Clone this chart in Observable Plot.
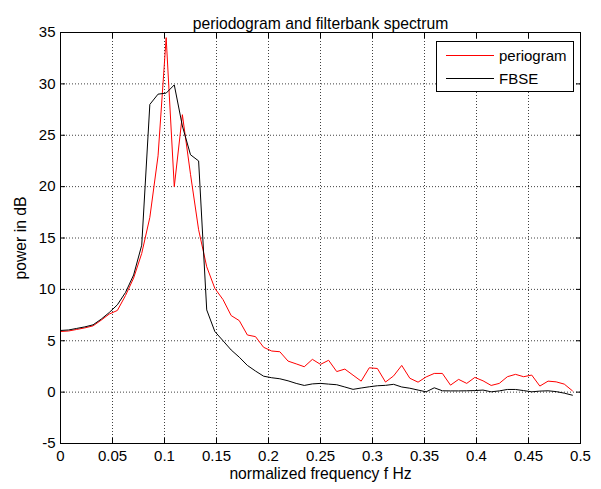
<!DOCTYPE html>
<html>
<head>
<meta charset="utf-8">
<script src="https://cdn.jsdelivr.net/npm/d3@7"></script>
<script src="https://cdn.jsdelivr.net/npm/@observablehq/plot@0.6"></script>
<style>
  body { margin: 0; background: #fff; }
  #wrap { position: relative; width: 601px; height: 489px; font-family: "Liberation Sans", Arial, sans-serif; }
  #legend { position: absolute; left: 436px; top: 41px; width: 136px; height: 49px; border: 1px solid #000; background: #fff; font-size: 15px; }
  .row { position: absolute; left: 0; height: 20px; width: 136px; }
  .sw { position: absolute; left: 9px; top: 9px; width: 48px; height: 0; border-top: 1px solid; }
  .lab { position: absolute; left: 62px; top: 1px; line-height: 17px; }
</style>
</head>
<body>
<div id="wrap"></div>
<script>
// Normalized frequency of each spectrum sample
const freq = [0, 0.0078, 0.0156, 0.0234, 0.0313, 0.0391, 0.0469, 0.0547, 0.0625, 0.0703,
  0.0781, 0.0859, 0.0938, 0.1016, 0.1094, 0.1172, 0.125, 0.1328, 0.1406, 0.1484,
  0.1563, 0.1641, 0.1719, 0.1797, 0.1875, 0.1953, 0.2031, 0.2109, 0.2188, 0.2266,
  0.2344, 0.2422, 0.25, 0.2578, 0.2656, 0.2734, 0.2813, 0.2891, 0.2969, 0.3047,
  0.3125, 0.3203, 0.3281, 0.3359, 0.3438, 0.3516, 0.3594, 0.3672, 0.375, 0.3828,
  0.3906, 0.3984, 0.4063, 0.4141, 0.4219, 0.4297, 0.4375, 0.4453, 0.4531, 0.4609,
  0.4688, 0.4766, 0.4844, 0.4922];

// periogram (dB)
const periogram = [5.9, 5.95, 6.1, 6.25, 6.45, 7.0, 7.6, 7.95, 9.4, 11.1,
  13.5, 17.0, 23.0, 34.5, 20.0, 27.0, 21.2, 15.8, 12.2, 10.1,
  9.0, 7.45, 6.96, 5.56, 5.4, 4.36, 4.0, 3.93, 3.02, 2.75,
  2.47, 3.19, 2.7, 3.1, 2.0, 2.24, 1.65, 1.07, 2.37, 2.3,
  0.98, 1.58, 2.6, 1.35, 0.97, 1.48, 1.82, 1.82, 0.68, 1.24,
  0.85, 1.43, 1.1, 0.65, 0.85, 1.5, 1.73, 1.5, 1.66, 0.59,
  1.07, 1.0, 0.78, 0.13];

// FBSE (dB)
const fbse = [6.0, 6.05, 6.2, 6.35, 6.55, 7.1, 7.75, 8.5, 9.7, 11.4,
  14.3, 28.0, 29.0, 29.1, 29.9, 25.9, 23.1, 22.5, 8.0, 5.9,
  5.0, 4.1, 3.4, 2.6, 2.05, 1.55, 1.4, 1.3, 1.1, 0.85,
  0.65, 0.8, 0.85, 0.78, 0.72, 0.5, 0.27, 0.4, 0.52, 0.62,
  0.66, 0.76, 0.5, 0.38, 0.2, 0.03, 0.42, 0.13, 0.12, 0.12,
  0.13, 0.15, 0.2, 0.03, 0.12, 0.26, 0.26, 0.15, 0.03, 0.1,
  0.13, 0.05, -0.1, -0.3];

const xTicks = [0, 0.05, 0.1, 0.15, 0.2, 0.25, 0.3, 0.35, 0.4, 0.45, 0.5];
const yTicks = [-5, 0, 5, 10, 15, 20, 25, 30, 35];
const seriesNames = ["periogram", "FBSE"];
const seriesColors = ["#ff0000", "#000000"];
const titleText = "periodogram and filterbank spectrum";
const xLabel = "normalized frequency f Hz";
const yLabel = "power in dB";

const redData = freq.map((f, i) => ({f, v: periogram[i]}));
const blackData = freq.map((f, i) => ({f, v: fbse[i]}));

const gridStyle = {stroke: "#000", strokeOpacity: 0.75, strokeDasharray: "1,2", strokeWidth: 1};
const fmt = d => String(d);

const chart = Plot.plot({
  width: 601,
  height: 489,
  marginLeft: 60,
  marginRight: 21,
  marginTop: 32,
  marginBottom: 46,
  style: {fontFamily: "'Liberation Sans', Arial, sans-serif", fontSize: "15px", background: "white", color: "black", overflow: "visible"},
  x: {domain: [0, 0.5]},
  y: {domain: [-5, 35]},
  marks: [
    Plot.gridX(xTicks, gridStyle),
    Plot.gridY(yTicks, gridStyle),
    Plot.axisX(xTicks, {anchor: "bottom", tickSize: 0, tickPadding: 7, tickFormat: fmt, label: null}),
    Plot.axisX(xTicks, {anchor: "bottom", tickSize: -5, text: null, label: null}),
    Plot.axisX(xTicks, {anchor: "top", tickSize: -5, text: null, label: null}),
    Plot.axisY(yTicks, {anchor: "left", tickSize: 0, tickPadding: 5, tickFormat: fmt, label: null}),
    Plot.axisY(yTicks, {anchor: "left", tickSize: -5, text: null, label: null}),
    Plot.axisY(yTicks, {anchor: "right", tickSize: -5, text: null, label: null}),
    Plot.line(redData, {x: "f", y: "v", stroke: seriesColors[0], strokeWidth: 1}),
    Plot.line(blackData, {x: "f", y: "v", stroke: seriesColors[1], strokeWidth: 1}),
    Plot.frame({stroke: "#000"}),
    Plot.text([titleText], {frameAnchor: "top", dy: -15, fontSize: 15.7}),
    Plot.text([xLabel], {frameAnchor: "bottom", dy: 35, fontSize: 15.7}),
    Plot.text([yLabel], {frameAnchor: "left", textAnchor: "middle", dx: -40, rotate: -90, fontSize: 15.7})
  ]
});

const wrap = document.getElementById("wrap");
wrap.appendChild(chart);

const legend = document.createElement("div");
legend.id = "legend";
seriesNames.forEach((name, i) => {
  const row = document.createElement("div");
  row.className = "row";
  row.style.top = (4 + i * 23) + "px";
  const sw = document.createElement("div");
  sw.className = "sw";
  sw.style.borderTopColor = seriesColors[i];
  const lab = document.createElement("span");
  lab.className = "lab";
  lab.textContent = name;
  row.appendChild(sw);
  row.appendChild(lab);
  legend.appendChild(row);
});
wrap.appendChild(legend);
</script>
</body>
</html>
